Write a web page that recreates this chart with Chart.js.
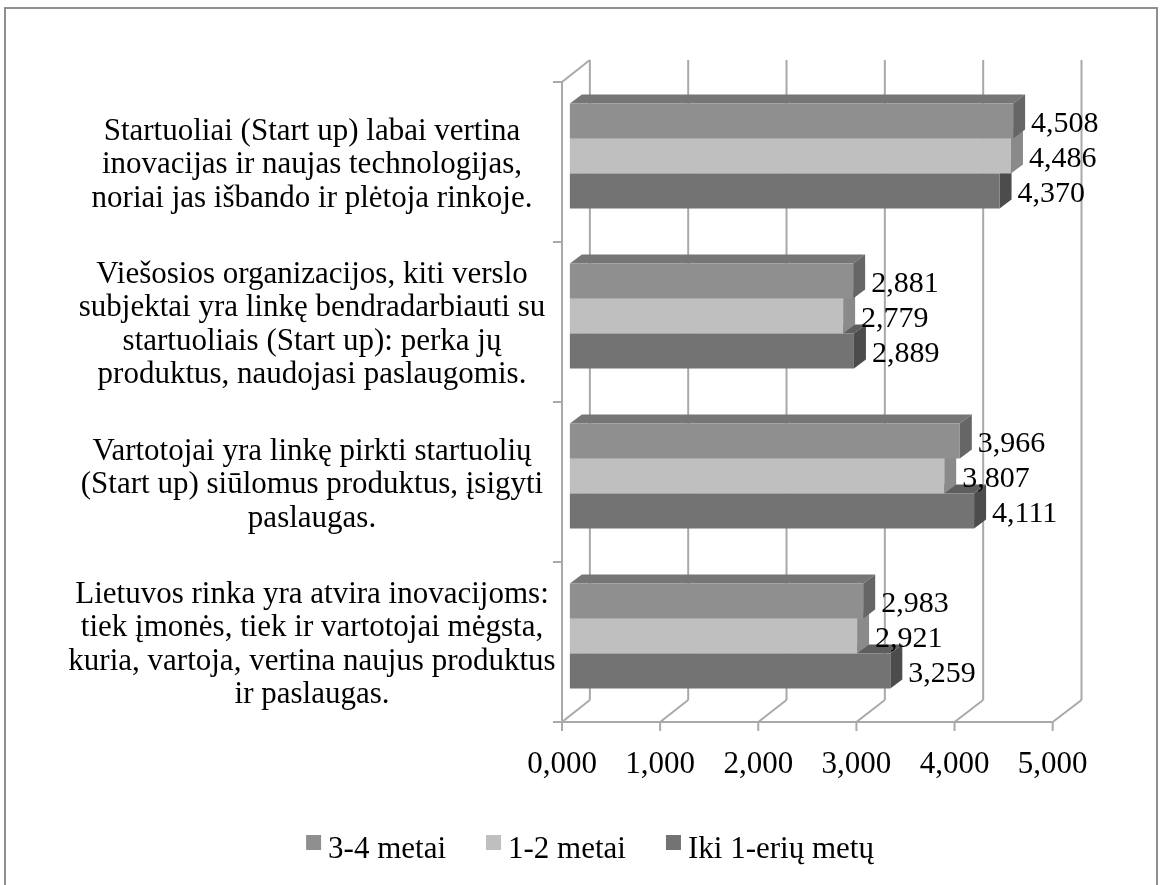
<!DOCTYPE html>
<html>
<head>
<meta charset="utf-8">
<script src="https://cdn.jsdelivr.net/npm/chart.js@4.4.0/dist/chart.umd.min.js"></script>
<style>
html,body{margin:0;padding:0;background:#fff;}
#frame{position:absolute;left:4px;top:7px;width:1150px;height:900px;border:2px solid #8f8f8f;}
#c{position:absolute;left:0;top:0;}
</style>
</head>
<body>
<div id="frame"></div>
<canvas id="c" width="1160" height="885"></canvas>
<script>
// ---- data ----
const categories = [
  ["Startuoliai (Start up) labai vertina", "inovacijas ir naujas technologijas,", "noriai jas išbando ir plėtoja rinkoje."],
  ["Viešosios organizacijos, kiti verslo", "subjektai yra linkę bendradarbiauti su", "startuoliais (Start up): perka jų", "produktus, naudojasi paslaugomis."],
  ["Vartotojai yra linkę pirkti startuolių", "(Start up) siūlomus produktus, įsigyti", "paslaugas."],
  ["Lietuvos rinka yra atvira inovacijoms:", "tiek įmonės, tiek ir vartotojai mėgsta,", "kuria, vartoja, vertina naujus produktus", "ir paslaugas."]
];
const seriesNames = ["3-4 metai", "1-2 metai", "Iki 1-erių metų"];
const values34 = [4.508, 2.881, 3.966, 2.983];
const values12 = [4.486, 2.779, 3.807, 2.921];
const valuesIki = [4.370, 2.889, 4.111, 3.259];
const tickValues = [0, 1, 2, 3, 4, 5];
const tickLabels = ["0,000", "1,000", "2,000", "3,000", "4,000", "5,000"];

// ---- style ----
const FONT = '"Liberation Serif", "Times New Roman", serif';
const faces = {
  front: ['#8f8f8f', '#bfbfbf', '#737373'],
  top:   ['#767676', '#a2a2a2', '#5e5e5e'],
  side:  ['#666666', '#8a8a8a', '#4c4c4c']
};
const depth = {dx: 12, dy: 9};
const wall = {backDx: 20, frontDy: 6, backDy: -16};
const gridColor = '#a9a9a9';
const catFontSize = 31;
const yAxisWidth = 562;
const labelCenterX = 312;
const legendStyle = {size: 31, box: 15, gap: 7, spacing: 40, centerX: 590, boxTop: 835, baseline: 858};
const fmt = v => v.toFixed(3).replace('.', ',');

const measureCtx = document.createElement('canvas').getContext('2d');
measureCtx.font = catFontSize + 'px ' + FONT;
const widestLine = Math.max(...categories.flat().map(s => measureCtx.measureText(s).width));
const yTickPadding = Math.max(0, yAxisWidth - labelCenterX - widestLine / 2);

const wallsPlugin = {
  id: 'walls3d',
  beforeDatasetsDraw(chart) {
    const {ctx, scales: {x, x2, y}} = chart;
    const n = categories.length;
    const yFront = k => y.getPixelForValue(k - 0.5) + wall.frontDy;
    const yBack = k => y.getPixelForValue(k - 0.5) + wall.backDy;
    const yF0 = yFront(0), yF1 = yFront(n), yB0 = yBack(0), yB1 = yBack(n);
    ctx.save();
    ctx.strokeStyle = gridColor;
    ctx.lineWidth = 2;
    const line = (a, b, c, d) => { ctx.beginPath(); ctx.moveTo(a, b); ctx.lineTo(c, d); ctx.stroke(); };
    tickValues.forEach(v => {
      const fx = x2.getPixelForValue(v);
      const bx = x.getPixelForValue(v) + wall.backDx;
      line(bx, yB0, bx, yB1);
      line(fx, yF1, bx, yB1);
      line(fx, yF1, fx, yF1 + 9);
    });
    const f0 = x2.getPixelForValue(tickValues[0]);
    const fN = x2.getPixelForValue(tickValues[tickValues.length - 1]);
    const b0 = x.getPixelForValue(tickValues[0]) + wall.backDx;
    line(f0 - 9, yF1, fN, yF1);
    line(f0, yF0, f0, yF1);
    line(f0, yF0, b0, yB0);
    for (let k = 0; k <= n; k++) { const yy = yFront(k); line(f0 - 9, yy, f0, yy); }

    // 3D faces of the bars (top and side), bottom bar first
    const order = [2, 1, 0];
    for (let i = 0; i < n; i++) {
      order.forEach(d => {
        const el = chart.getDatasetMeta(d).data[i];
        if (!el) return;
        const p = el.getProps(['x', 'y', 'base', 'height'], true);
        const t = p.y - p.height / 2, b = p.y + p.height / 2;
        ctx.fillStyle = faces.top[d];
        ctx.beginPath();
        ctx.moveTo(p.base, t); ctx.lineTo(p.x, t);
        ctx.lineTo(p.x + depth.dx, t - depth.dy); ctx.lineTo(p.base + depth.dx, t - depth.dy);
        ctx.closePath(); ctx.fill();
        ctx.fillStyle = faces.side[d];
        ctx.beginPath();
        ctx.moveTo(p.x, t); ctx.lineTo(p.x + depth.dx, t - depth.dy);
        ctx.lineTo(p.x + depth.dx, b - depth.dy); ctx.lineTo(p.x, b);
        ctx.closePath(); ctx.fill();
      });
    }
    ctx.restore();
  }
};

const labelsPlugin = {
  id: 'valueLabels',
  afterDatasetsDraw(chart) {
    const {ctx} = chart;
    ctx.save();
    ctx.font = '30px ' + FONT;
    ctx.fillStyle = '#000';
    ctx.textAlign = 'left';
    ctx.textBaseline = 'middle';
    chart.data.datasets.forEach((ds, d) => {
      chart.getDatasetMeta(d).data.forEach((el, i) => {
        ctx.fillText(fmt(ds.data[i]), el.x + depth.dx + 6, el.y + 3.5);
      });
    });
    ctx.restore();
  }
};

const legendPlugin = {
  id: 'legendRow',
  afterDraw(chart) {
    const {ctx} = chart;
    const L = legendStyle;
    ctx.save();
    ctx.font = L.size + 'px ' + FONT;
    const widths = chart.data.datasets.map(ds => ctx.measureText(ds.label).width);
    const total = widths.reduce((a, w) => a + L.box + L.gap + w, 0) + L.spacing * (widths.length - 1);
    let cx = L.centerX - total / 2;
    chart.data.datasets.forEach((ds, i) => {
      ctx.fillStyle = ds.backgroundColor;
      ctx.fillRect(cx, L.boxTop, L.box, L.box);
      cx += L.box + L.gap;
      ctx.fillStyle = '#000';
      ctx.textAlign = 'left';
      ctx.textBaseline = 'alphabetic';
      ctx.fillText(ds.label, cx, L.baseline);
      cx += widths[i] + L.spacing;
    });
    ctx.restore();
  }
};

new Chart(document.getElementById('c'), {
  type: 'bar',
  data: {
    labels: categories,
    datasets: [
      {label: seriesNames[0], data: values34, backgroundColor: faces.front[0]},
      {label: seriesNames[1], data: values12, backgroundColor: faces.front[1]},
      {label: seriesNames[2], data: valuesIki, backgroundColor: faces.front[2]}
    ]
  },
  options: {
    indexAxis: 'y',
    responsive: false,
    animation: false,
    devicePixelRatio: 1,
    layout: {padding: {left: 0, right: 0, top: 76, bottom: 84}},
    datasets: {bar: {categoryPercentage: 0.656, barPercentage: 1, borderWidth: 0}},
    scales: {
      x: {type: 'linear', axis: 'x', position: 'bottom', min: -0.08, max: 5, display: false},
      x2: {
        type: 'linear', axis: 'x', position: 'bottom', min: 0, max: 5.09,
        grid: {display: false, drawTicks: false}, border: {display: false},
        ticks: {stepSize: 1, includeBounds: false, padding: 30, color: '#000', maxRotation: 0, autoSkip: false,
                font: {family: FONT, size: 31}, callback: (v, i) => tickLabels[i]},
        afterFit(s) { s.height = 85; }
      },
      y: {
        type: 'category', position: 'left',
        grid: {display: false, drawTicks: false}, border: {display: false},
        ticks: {crossAlign: 'center', padding: yTickPadding, labelOffset: 9, color: '#000', autoSkip: false,
                font: {family: FONT, size: catFontSize, lineHeight: 1.08}},
        afterFit(s) { s.width = yAxisWidth; s.paddingTop = 0; s.paddingBottom = 0; }
      },
      yR: {
        type: 'category', position: 'right', display: true,
        grid: {display: false, drawTicks: false}, border: {display: false},
        ticks: {display: false},
        afterFit(s) { s.width = 98.5; s.paddingTop = 0; s.paddingBottom = 0; }
      }
    },
    plugins: {
      legend: {display: false},
      tooltip: {enabled: false}
    }
  },
  plugins: [wallsPlugin, labelsPlugin, legendPlugin]
});
</script>
</body>
</html>
